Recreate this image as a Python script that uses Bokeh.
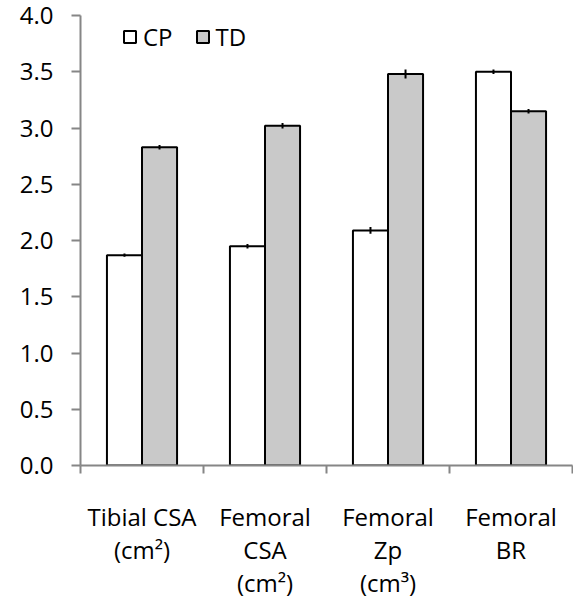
from bokeh.plotting import figure
from bokeh.models import (ColumnDataSource, FixedTicker, NumeralTickFormatter,
                          Range1d, Legend, LegendItem)
from bokeh.embed import file_html
from bokeh.resources import INLINE

# Bone measures, cerebral palsy (CP) vs typically developing (TD)
categories = ["Tibial CSA\n(cm²)", "Femoral\nCSA\n(cm²)", "Femoral\nZp\n(cm³)", "Femoral\nBR"]
cp_values = [1.87, 1.95, 2.09, 3.50]
td_values = [2.83, 3.02, 3.48, 3.15]
cp_errors = [0.015, 0.02, 0.03, 0.02]
td_errors = [0.02, 0.025, 0.04, 0.02]
y_ticks = [0.0, 0.5, 1.0, 1.5, 2.0, 2.5, 3.0, 3.5, 4.0]

FONT = "Open Sans"
AXIS_GREY = "#868686"
TD_FILL = "#c9c9c9"
BAR_W = 0.285

n = len(categories)
centers = [i + 0.5 for i in range(n)]
cp_x = [c - BAR_W / 2 for c in centers]
td_x = [c + BAR_W / 2 for c in centers]

cp_src = ColumnDataSource(dict(
    x=cp_x, top=cp_values,
    lo=[v - e for v, e in zip(cp_values, cp_errors)],
    hi=[v + e for v, e in zip(cp_values, cp_errors)],
))
td_src = ColumnDataSource(dict(
    x=td_x, top=td_values,
    lo=[v - e for v, e in zip(td_values, td_errors)],
    hi=[v + e for v, e in zip(td_values, td_errors)],
))

p = figure(width=573, height=601,
           x_range=Range1d(0, n), y_range=Range1d(y_ticks[0], y_ticks[-1]),
           output_backend="svg", toolbar_location=None,
           min_border_left=80, min_border_right=1,
           min_border_top=15, min_border_bottom=134)
p.outline_line_color = None
p.grid.visible = False
p.background_fill_color = "white"
p.border_fill_color = "white"

cp_r = p.vbar(x="x", top="top", bottom=0, width=BAR_W, source=cp_src,
              fill_color="white", line_color="black", line_width=2)
td_r = p.vbar(x="x", top="top", bottom=0, width=BAR_W, source=td_src,
              fill_color=TD_FILL, line_color="black", line_width=2)

# error bars through the bar tops
for src in (cp_src, td_src):
    p.segment(x0="x", y0="lo", x1="x", y1="hi", source=src,
              line_color="black", line_width=2)

# x axis: labels at category centres, tick marks at category boundaries
xa = p.xaxis[0]
xa.ticker = FixedTicker(ticks=centers, minor_ticks=list(range(n + 1)))
xa.major_label_overrides = {c: lab for c, lab in zip(centers, categories)}
xa.major_tick_in = 0
xa.major_tick_out = 0
xa.minor_tick_in = 0
xa.minor_tick_out = 8
xa.minor_tick_line_color = AXIS_GREY
xa.minor_tick_line_width = 2
xa.axis_line_color = AXIS_GREY
xa.axis_line_width = 2
xa.major_label_standoff = 26
xa.major_label_text_font = FONT
xa.major_label_text_font_size = "24px"
xa.major_label_text_color = "black"
xa.major_label_text_line_height = 1.0

ya = p.yaxis[0]
ya.ticker = FixedTicker(ticks=y_ticks)
ya.formatter = NumeralTickFormatter(format="0.0")
ya.major_tick_in = 0
ya.major_tick_out = 9
ya.minor_tick_out = 0
ya.minor_tick_in = 0
ya.major_tick_line_color = AXIS_GREY
ya.major_tick_line_width = 2
ya.axis_line_color = AXIS_GREY
ya.axis_line_width = 2
ya.major_label_standoff = 18
ya.major_label_text_font = FONT
ya.major_label_text_font_size = "24px"
ya.major_label_text_color = "black"

legend = Legend(items=[LegendItem(label="CP", renderers=[cp_r]),
                       LegendItem(label="TD", renderers=[td_r])],
                location=(42, 412), orientation="horizontal",
                glyph_width=15, glyph_height=15, label_standoff=6,
                spacing=22, padding=0, margin=0,
                border_line_color=None, background_fill_alpha=0,
                label_text_font=FONT, label_text_font_size="24px",
                label_text_color="black")
p.add_layout(legend, "center")

open("out.html", "w").write(file_html(p, INLINE))
